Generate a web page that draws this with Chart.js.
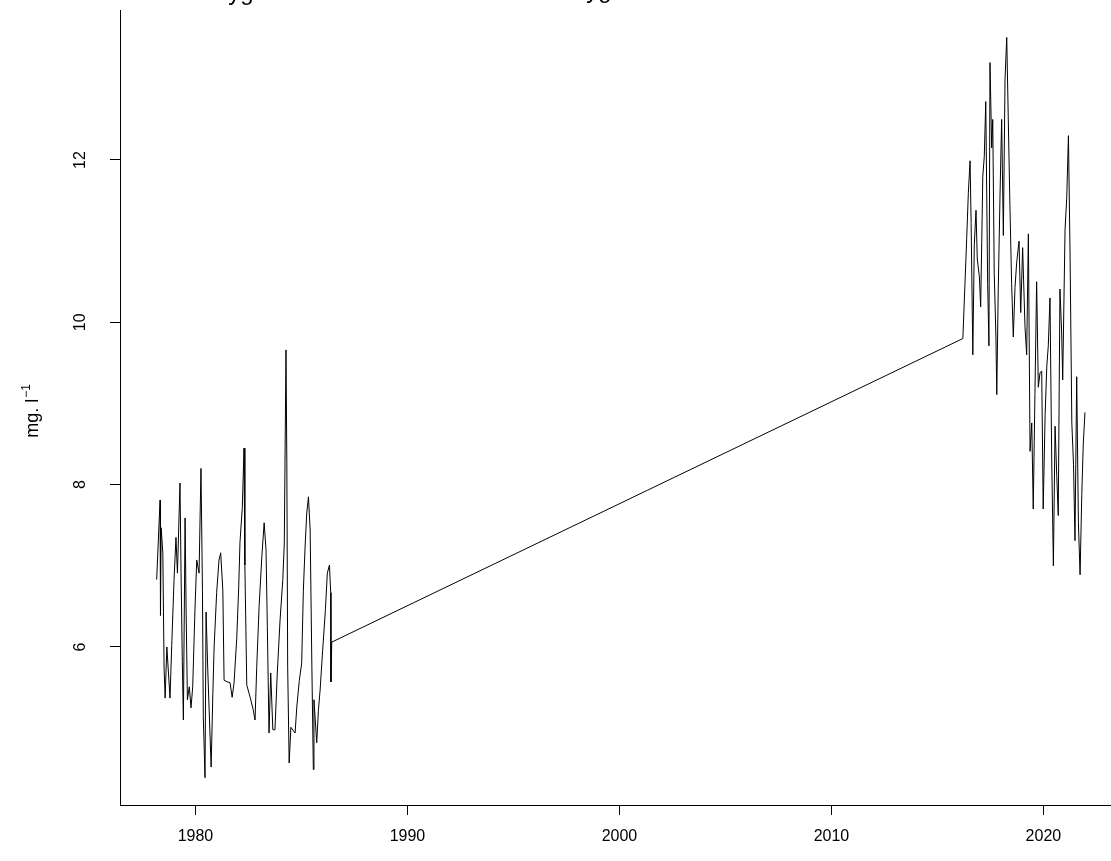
<!DOCTYPE html>
<html>
<head>
<meta charset="utf-8">
<script src="https://cdn.jsdelivr.net/npm/chart.js@4.4.1/dist/chart.umd.min.js"></script>
<style>
  html, body { margin: 0; padding: 0; background: #ffffff; overflow: hidden; }
  #wrap { position: relative; width: 1121px; height: 861px; }
</style>
</head>
<body>
<div id="wrap"><canvas id="c"></canvas></div>
<script>
// ---- data ----
const earlyYears = [1978.17,1978.33,1978.35,1978.38,1978.46,1978.52,1978.57,1978.65,1978.80,1978.88,
  1978.99,1979.08,1979.15,1979.27,1979.32,1979.38,1979.43,1979.51,1979.56,1979.62,
  1979.71,1979.79,1979.87,1979.98,1980.06,1980.17,1980.26,1980.33,1980.37,1980.45,
  1980.50,1980.58,1980.69,1980.74,1980.82,1980.88,1981.00,1981.11,1981.19,1981.29,
  1981.35,1981.50,1981.63,1981.73,1981.82,1981.95,1982.04,1982.10,1982.21,1982.29,
  1982.33,1982.42,1982.58,1982.73,1982.81,1982.89,1983.00,1983.13,1983.24,1983.33,
  1983.39,1983.47,1983.55,1983.65,1983.75,1983.86,1983.99,1984.12,1984.19,1984.27,
  1984.31,1984.35,1984.42,1984.50,1984.70,1984.78,1984.90,1985.01,1985.09,1985.17,
  1985.25,1985.33,1985.41,1985.49,1985.56,1985.59,1985.72,1985.80,1985.88,1986.00,
  1986.13,1986.22,1986.32,1986.38,1986.39,1986.43];
const earlyValues = [6.83,7.81,6.39,7.47,7.16,5.74,5.37,6.00,5.37,6.02,
  6.83,7.35,6.91,8.02,6.91,5.82,5.10,7.59,6.43,5.35,
  5.51,5.25,5.51,6.49,7.07,6.91,8.20,6.70,5.14,4.39,
  6.43,5.72,4.89,4.52,5.43,6.00,6.67,7.07,7.16,6.70,
  5.59,5.57,5.56,5.38,5.56,6.12,6.74,7.29,7.72,8.45,
  7.01,5.53,5.38,5.22,5.10,5.75,6.49,7.11,7.53,7.19,
  6.25,4.94,5.68,4.98,4.98,5.68,6.33,6.83,7.28,9.66,
  8.27,5.75,4.57,5.01,4.94,5.26,5.59,5.80,6.70,7.23,
  7.65,7.85,7.44,5.78,4.49,5.35,4.82,5.22,5.47,5.96,
  6.46,6.91,7.01,6.67,5.57,6.06];
const lateYears = [2016.20,2016.30,2016.38,2016.46,2016.54,2016.59,2016.67,2016.74,2016.82,2016.88,
  2016.98,2017.04,2017.09,2017.14,2017.21,2017.28,2017.37,2017.43,2017.48,2017.56,
  2017.61,2017.68,2017.76,2017.80,2017.87,2017.95,2018.03,2018.11,2018.19,2018.27,
  2018.34,2018.42,2018.50,2018.58,2018.66,2018.74,2018.85,2018.93,2019.02,2019.13,
  2019.21,2019.29,2019.37,2019.45,2019.52,2019.60,2019.68,2019.76,2019.84,2019.92,
  2019.99,2020.08,2020.16,2020.23,2020.31,2020.39,2020.47,2020.55,2020.63,2020.70,
  2020.78,2020.86,2020.91,2021.02,2021.10,2021.18,2021.26,2021.34,2021.42,2021.49,
  2021.57,2021.65,2021.73,2021.81,2021.88,2021.96];
const lateValues = [9.80,10.48,11.03,11.60,11.99,11.22,9.60,10.96,11.38,10.78,
  10.56,10.19,10.98,11.80,12.04,12.72,10.48,9.71,13.20,12.15,
  12.50,10.61,9.82,9.11,10.41,11.53,12.50,11.07,13.00,13.51,
  12.54,11.44,10.48,9.82,10.43,10.74,11.00,10.12,10.92,9.95,
  9.60,11.09,8.41,8.76,7.70,9.11,10.50,9.20,9.38,9.40,
  7.70,8.85,9.46,9.71,10.30,8.34,7.00,8.72,8.10,7.62,
  10.41,9.88,9.29,11.14,11.53,12.30,10.78,8.76,8.25,7.31,
  9.33,7.53,6.89,7.88,8.50,8.89];
const xTickValues = [1980, 1990, 2000, 2010, 2020];
const yTickValues = [6, 8, 10, 12];
const yTitleMain = 'mg. l';
const yTitleSup = '\u22121';
const titleText = 'Dissolved oxygen';

// ---- build ----
const allYears = earlyYears.concat(lateYears);
const allValues = earlyValues.concat(lateValues);
const points = allYears.map((x, i) => ({ x: x, y: allValues[i] }));

const FONT = '"Liberation Sans", Arial, sans-serif';

const customText = {
  id: 'customText',
  afterDraw(chart) {
    const ctx = chart.ctx;
    const ys = chart.scales.y;
    ctx.save();
    ctx.fillStyle = '#000';
    // rotated y tick labels (parallel to axis)
    ctx.font = '16px ' + FONT;
    ctx.textAlign = 'center';
    ctx.textBaseline = 'middle';
    yTickValues.forEach(v => {
      const py = ys.getPixelForValue(v);
      ctx.save();
      ctx.translate(81, py);
      ctx.rotate(-Math.PI / 2);
      ctx.fillText(String(v), 0, 0);
      ctx.restore();
    });
    // y axis title with superscript
    ctx.save();
    const cy = (chart.chartArea.top + chart.chartArea.bottom) / 2 + 4;
    ctx.translate(38, cy);
    ctx.rotate(-Math.PI / 2);
    ctx.textBaseline = 'alphabetic';
    ctx.textAlign = 'left';
    ctx.font = '18px ' + FONT;
    const w1 = ctx.measureText(yTitleMain).width;
    ctx.font = '12px ' + FONT;
    const w2 = ctx.measureText(yTitleSup).width;
    const start = -(w1 + w2) / 2;
    ctx.font = '18px ' + FONT;
    ctx.fillText(yTitleMain, start, 0);
    ctx.font = '12px ' + FONT;
    ctx.fillText(yTitleSup, start + w1 + 1, -8);
    ctx.restore();
    // cropped title fragments at the very top
    ctx.font = '24px ' + FONT;
    ctx.textAlign = 'left';
    ctx.textBaseline = 'alphabetic';
    const pre = ctx.measureText('Dissolved ').width;
    ctx.fillText(titleText, 203 - pre, 0);
    ctx.fillText(titleText, 561 - pre, -2);
    ctx.restore();
  }
};

new Chart(document.getElementById('c'), {
  type: 'line',
  data: {
    datasets: [{
      data: points,
      borderColor: '#000000',
      borderWidth: 1,
      pointRadius: 0,
      tension: 0,
      fill: false
    }]
  },
  options: {
    responsive: true,
    maintainAspectRatio: false,
    animation: false,
    layout: { padding: { top: 10, left: 0, right: 0, bottom: 0 } },
    plugins: { legend: { display: false }, tooltip: { enabled: false }, title: { display: false } },
    scales: {
      x: {
        type: 'linear',
        min: 1976.44,
        max: 2023.66,
        afterBuildTicks: s => { s.ticks = xTickValues.map(v => ({ value: v })); },
        afterFit: s => { s.height = 56; },
        border: { display: true, color: '#000', width: 1 },
        grid: { drawOnChartArea: false, drawTicks: true, tickLength: 10, tickColor: '#000', tickWidth: 1 },
        ticks: {
          color: '#000',
          font: { family: FONT, size: 16 },
          padding: 12,
          maxRotation: 0,
          minRotation: 0,
          callback: v => String(v)
        }
      },
      y: {
        type: 'linear',
        min: 4.053,
        max: 13.848,
        afterBuildTicks: s => { s.ticks = yTickValues.map(v => ({ value: v })); },
        afterFit: s => { s.width = 120; },
        border: { display: true, color: '#000', width: 1 },
        grid: { drawOnChartArea: false, drawTicks: true, tickLength: 10, tickColor: '#000', tickWidth: 1 },
        ticks: { display: false }
      }
    }
  },
  plugins: [customText]
});
</script>
</body>
</html>
